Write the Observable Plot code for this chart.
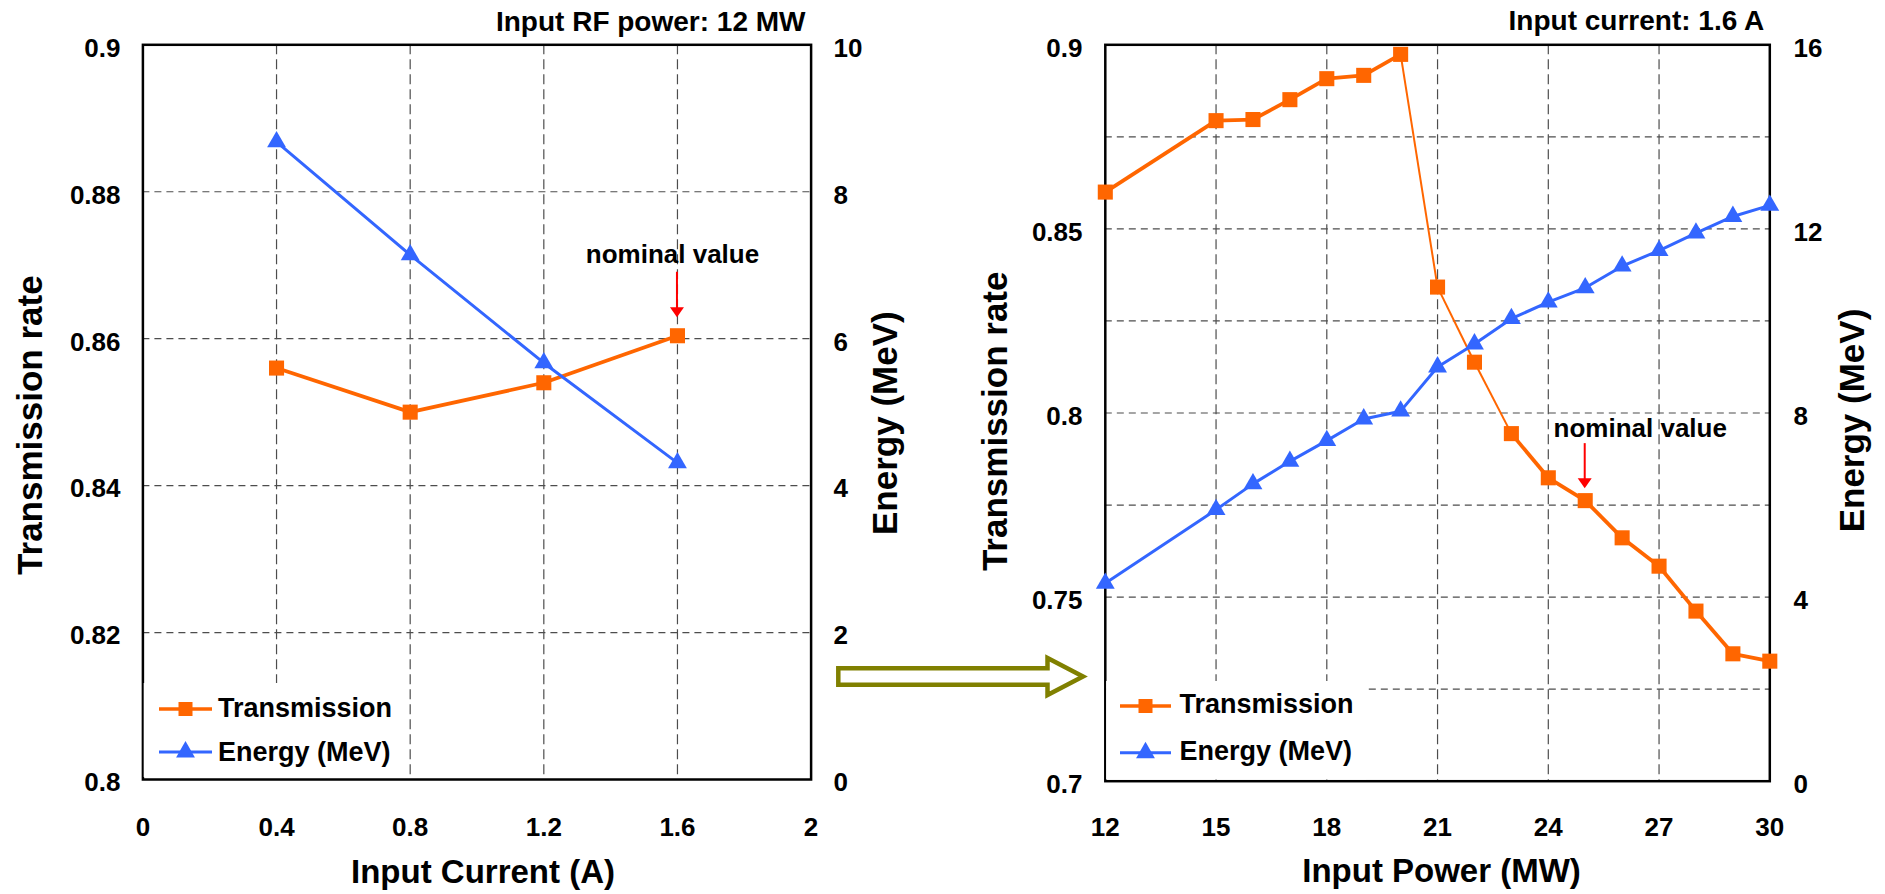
<!DOCTYPE html>
<html><head><meta charset="utf-8">
<script src="https://cdn.jsdelivr.net/npm/d3@7"></script>
<script src="https://cdn.jsdelivr.net/npm/@observablehq/plot@0.6"></script>
<style>
html,body{margin:0;padding:0;background:#fff;}
#wrap{position:relative;width:1885px;height:894px;overflow:hidden;background:#fff;}
#wrap svg{position:absolute;top:0;max-width:none;}
</style></head><body><div id="wrap"></div>
<script>
// ---------- data ----------
const seriesNames = ["Transmission", "Energy (MeV)"];

// Panel A: scan of input current at 12 MW
const currentX = [0.4, 0.8, 1.2, 1.6];
const currentTransmission = [0.856, 0.850, 0.854, 0.8604];
const currentEnergy = [8.68, 7.14, 5.67, 4.31];
const currentXTicks = [0, 0.4, 0.8, 1.2, 1.6, 2];
const currentXGrid = [0.4, 0.8, 1.2, 1.6];
const currentYTicks = [0.8, 0.82, 0.84, 0.86, 0.88, 0.9];
const currentYGrid = [0.82, 0.84, 0.86, 0.88];
const currentEnergyTicks = [0, 2, 4, 6, 8, 10];
const nominalCurrent = 1.6;

// Panel B: scan of input power at 1.6 A
const powerX = [12, 15, 16, 17, 18, 19, 20, 21, 22, 23, 24, 25, 26, 27, 28, 29, 30];
const powerTransmission = [0.860, 0.8794, 0.8797, 0.8851, 0.8908, 0.8917, 0.8974, 0.8342, 0.8138, 0.7944, 0.7824, 0.7762, 0.7661, 0.7584, 0.7462, 0.7346, 0.7326];
const powerEnergy = [4.30, 5.90, 6.46, 6.95, 7.40, 7.87, 8.04, 9.00, 9.50, 10.05, 10.41, 10.72, 11.19, 11.53, 11.91, 12.27, 12.51];
const powerXTicks = [12, 15, 18, 21, 24, 27, 30];
const powerXGrid = [15, 18, 21, 24, 27];
const powerYTicks = [0.7, 0.75, 0.8, 0.85, 0.9];
const powerYGrid = [0.725, 0.75, 0.775, 0.8, 0.825, 0.85, 0.875];
const powerEnergyTicks = [0, 4, 8, 12, 16];
const nominalPower = 25;
const thinSegmentStarts = [20, 21, 22];

// ---------- styling ----------
const FONT = "'Liberation Sans', Arial, Helvetica, sans-serif";
const ORANGE = "#FF6600", BLUE = "#3366FF", GRID = "#4d4d4d", OLIVE = "#808000", RED = "#FF0000";

function panel(c) {
  const [y0, y1] = c.yDomain;
  const toY = e => y0 + e / c.eMax * (y1 - y0);
  const toE = y => +((y - y0) / (y1 - y0) * c.eMax).toFixed(6);
  const pts = c.x.map((x, i) => ({x, t: c.trans[i], e: toY(c.energy[i])}));
  const pairs = d3.pairs(pts);
  const nomIdx = c.x.indexOf(c.nominal);
  const plot = Plot.plot({
    width: c.width, height: 894,
    marginLeft: c.ml, marginRight: c.mr, marginTop: c.mt, marginBottom: c.mb,
    x: {domain: c.xDomain},
    y: {domain: c.yDomain},
    style: {fontFamily: FONT, fontWeight: "bold", fontSize: "26px", color: "#000", background: "transparent", overflow: "visible"},
    marks: [
      Plot.ruleX(c.xGrid, {stroke: GRID, strokeWidth: 1.2, strokeDasharray: "10,5"}),
      Plot.ruleY(c.yGrid, {stroke: GRID, strokeWidth: 1.2, strokeDasharray: "7,5"}),
      Plot.frame({stroke: "#000", strokeWidth: 2.5}),
      Plot.link(pairs, {x1: p => p[0].x, y1: p => p[0].t, x2: p => p[1].x, y2: p => p[1].t,
        stroke: ORANGE, strokeWidth: p => c.thin.includes(p[0].x) ? 2 : 3.8}),
      Plot.dot(pts, {x: "x", y: "t", symbol: "square", r: 8.5, fill: ORANGE}),
      Plot.line(pts, {x: "x", y: "e", stroke: BLUE, strokeWidth: 3}),
      Plot.dot(pts, {x: "x", y: "e", symbol: "triangle", r: 7, fill: BLUE}),
      Plot.axisX(c.xTicks, {tickSize: 0, tickPadding: c.xPad, tickFormat: d => String(d), label: null, fontSize: 26}),
      Plot.axisY(c.yTicks, {anchor: "left", tickSize: 0, tickPadding: c.yPadL, tickFormat: d => String(d), label: null, fontSize: 26, dy: 3.5}),
      Plot.axisY(c.eTicks.map(toY), {anchor: "right", tickSize: 0, tickPadding: c.yPadR, tickFormat: d => String(toE(d)), label: null, fontSize: 26, dy: 3.5}),
      Plot.text([c.yTitle], {frameAnchor: "left", text: d => d, rotate: -90, dx: c.ylDx, dy: c.ylDy, lineAnchor: "bottom", textAnchor: "middle", fontSize: 35, fontWeight: "bold"}),
      Plot.text([c.eTitle], {frameAnchor: "right", text: d => d, rotate: -90, dx: c.yrDx, dy: c.yrDy, lineAnchor: "bottom", textAnchor: "middle", fontSize: 35, fontWeight: "bold"}),
      Plot.text([c.xTitle], {frameAnchor: "bottom", text: d => d, dx: c.xtDx, dy: c.xtDy, lineAnchor: "bottom", textAnchor: "middle", fontSize: 33, fontWeight: "bold"}),
      Plot.text([c.topNote], {frameAnchor: "top-right", text: d => d, dx: -5.6, dy: c.noteDy, lineAnchor: "bottom", textAnchor: "end", fontSize: 28, fontWeight: "bold"}),
      Plot.text([c.nominal], {x: d => d, y: () => c.trans[nomIdx], text: () => "nominal value", dx: c.nomDx, dy: c.nomDy, lineAnchor: "bottom", textAnchor: "middle", fontSize: 26, fontWeight: "bold"})
    ]
  });
  // red arrow pointing to the nominal point
  const px = plot.scale("x").apply(c.nominal), py = plot.scale("y").apply(c.trans[nomIdx]);
  const g = d3.select(plot).append("g");
  g.append("line").attr("x1", px).attr("x2", px).attr("y1", py + c.arrTop).attr("y2", py + c.arrTip - 8)
    .attr("stroke", RED).attr("stroke-width", 2);
  g.append("path").attr("d", `M${px - 7},${py + c.arrTip - 10}L${px + 7},${py + c.arrTip - 10}L${px},${py + c.arrTip}Z`).attr("fill", RED);
  plot.style.left = c.left + "px";
  return plot;
}

const wrap = document.getElementById("wrap");

wrap.appendChild(panel({
  left: 0, width: 940, ml: 142.4, mr: 129.4, mt: 44.3, mb: 115,
  xDomain: [0, 2], yDomain: [0.8, 0.9], eMax: 10,
  x: currentX, trans: currentTransmission, energy: currentEnergy, thin: [],
  xTicks: currentXTicks, xGrid: currentXGrid, yTicks: currentYTicks, yGrid: currentYGrid, eTicks: currentEnergyTicks,
  xPad: 38, yPadL: 22.4, yPadR: 22.4,
  yTitle: "Transmission rate", eTitle: "Energy (MeV)", xTitle: "Input Current (A)", topNote: "Input RF power: 12 MW",
  ylDx: -100.7, ylDy: 13, yrDx: 86.1, yrDy: 11, xtDx: 6, xtDy: 103, noteDy: -13.8,
  nominal: nominalCurrent, nomDx: -5, nomDy: -73, arrTop: -63.5, arrTip: -18
}));

wrap.appendChild(panel({
  left: 940, width: 945, ml: 164.8, mr: 115.7, mt: 44.3, mb: 113.3,
  xDomain: [12, 30], yDomain: [0.7, 0.9], eMax: 16,
  x: powerX, trans: powerTransmission, energy: powerEnergy, thin: thinSegmentStarts,
  xTicks: powerXTicks, xGrid: powerXGrid, yTicks: powerYTicks, yGrid: powerYGrid, eTicks: powerEnergyTicks,
  xPad: 36, yPadL: 22.8, yPadR: 23.7,
  yTitle: "Transmission rate", eTitle: "Energy (MeV)", xTitle: "Input Power (MW)", topNote: "Input current: 1.6 A",
  ylDx: -98, ylDy: 8.3, yrDx: 94, yrDy: 7.5, xtDx: 4, xtDy: 101, noteDy: -15,
  nominal: nominalPower, nomDx: 55, nomDy: -63.4, arrTop: -57, arrTip: -12
}));

// ---------- overlay: legends and connecting arrow ----------
const ov = d3.select(wrap).append("svg").attr("width", 1885).attr("height", 894)
  .style("left", "0px").style("pointer-events", "none")
  .style("font-family", FONT).style("font-weight", "bold");

ov.append("polygon")
  .attr("points", "838.3,668.3 1047.5,668.3 1047.5,658 1083,676.5 1047.5,695 1047.5,684.7 838.3,684.7")
  .attr("fill", "#fff").attr("stroke", OLIVE).attr("stroke-width", 4.5).attr("stroke-linejoin", "miter");

const tri = d3.symbol(d3.symbolTriangle, Math.PI * 49)();
function legend(bx, by, bw, bh, lx1, lx2, tx, rows) {
  const g = ov.append("g");
  g.append("rect").attr("x", bx).attr("y", by).attr("width", bw).attr("height", bh).attr("fill", "#fff");
  rows.forEach((r, i) => {
    const color = i === 0 ? ORANGE : BLUE;
    g.append("line").attr("x1", lx1).attr("x2", lx2).attr("y1", r.ly).attr("y2", r.ly)
      .attr("stroke", color).attr("stroke-width", i === 0 ? 3.5 : 3);
    const mx = (lx1 + lx2) / 2;
    if (i === 0) g.append("rect").attr("x", mx - 7).attr("y", r.ly - 7).attr("width", 14).attr("height", 14).attr("fill", color);
    else g.append("path").attr("d", tri).attr("transform", `translate(${mx},${r.ly})`).attr("fill", color);
    g.append("text").attr("x", tx).attr("y", r.ty).attr("font-size", 27).attr("fill", "#000").text(seriesNames[i]);
  });
}
legend(143.7, 683, 257, 94, 159, 212, 218, [{ly: 709, ty: 716.7}, {ly: 752, ty: 760.7}]);
legend(1106.1, 681, 260, 98.3, 1120, 1171, 1179.5, [{ly: 706, ty: 713}, {ly: 752.7, ty: 760}]);
</script></body></html>
